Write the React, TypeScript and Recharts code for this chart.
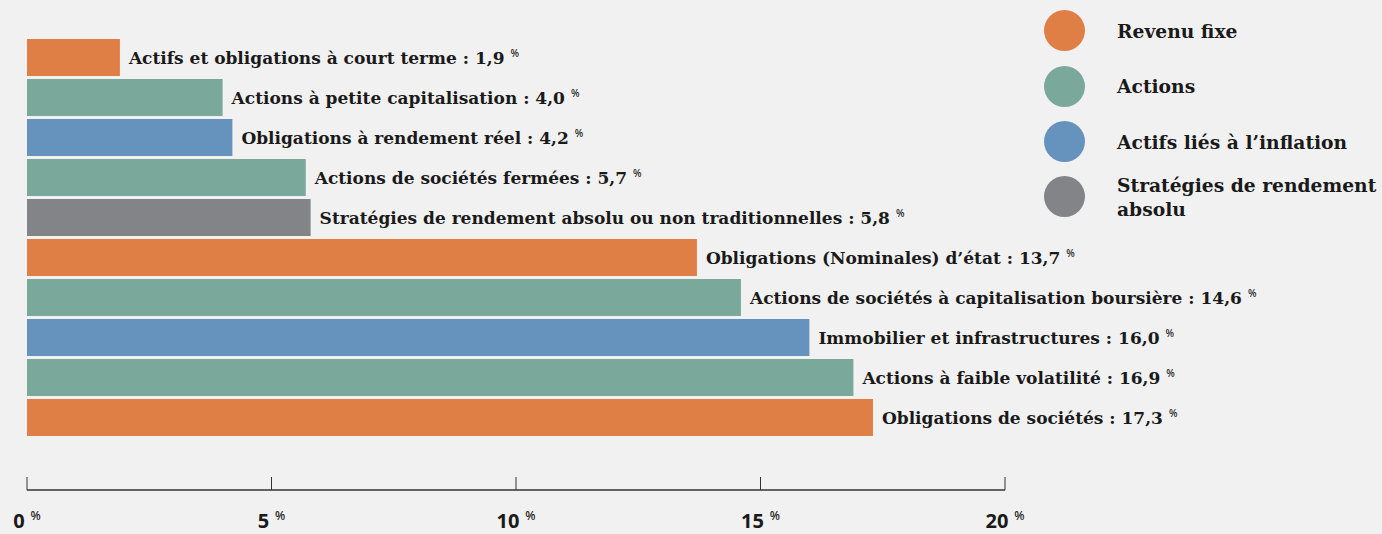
import React from 'react';
import { BarChart, Bar, XAxis, YAxis, Cell, LabelList, Legend } from 'recharts';

const categories = [
  'Actifs et obligations à court terme',
  'Actions à petite capitalisation',
  'Obligations à rendement réel',
  'Actions de sociétés fermées',
  'Stratégies de rendement absolu ou non traditionnelles',
  'Obligations (Nominales) d’état',
  'Actions de sociétés à capitalisation boursière',
  'Immobilier et infrastructures',
  'Actions à faible volatilité',
  'Obligations de sociétés',
];
const values = [1.9, 4.0, 4.2, 5.7, 5.8, 13.7, 14.6, 16.0, 16.9, 17.3];
const groups = [0, 1, 2, 1, 3, 0, 1, 2, 1, 0];

const groupNames = ['Revenu fixe', 'Actions', 'Actifs liés à l’inflation', 'Stratégies de rendement absolu'];
const groupColors = ['#DF7F46', '#7AA89B', '#6593BD', '#838488'];
const xTicks = [0, 5, 10, 15, 20];

const fmt = (v: number) => v.toFixed(1).replace('.', ',');

const data = categories.map((c, i) => ({
  name: c,
  value: values[i],
  group: groups[i],
  label: `${c} : ${fmt(values[i])}`,
}));

const SERIF = '"DejaVu Serif", serif';
const SANS = '"Noto Sans", sans-serif';

const BarLabel = (props: any) => {
  const { x, y, width, height, value } = props;
  const tx = Number(x) + Number(width) + 9;
  const ty = Number(y) + Number(height) / 2 + 6;
  return (
    <text x={tx} y={ty} fontFamily={SERIF} fontWeight={700} fontSize={17} fill="#1a1a1a">
      {value}
      <tspan fontSize={10} dx={6} dy={-7} fontFamily={SANS} fontWeight={500}>%</tspan>
    </text>
  );
};

const XTick = (props: any) => {
  const { x, y, payload } = props;
  return (
    <g>
      <line x1={x} x2={x} y1={y - 13} y2={y} stroke="#333" strokeWidth={1} />
      <text x={x} y={y + 38} textAnchor="middle" fontFamily={SANS} fontWeight={700} fontSize={20} fill="#1a1a1a">
        {payload.value}
        <tspan fontSize={12} dx={6} dy={-8} fontWeight={500}>%</tspan>
      </text>
    </g>
  );
};

const LegendContent = () => (
  <div style={{ paddingTop: 3.3 }}>
    {groupNames.map((n, i) => (
      <div key={n} style={{ display: 'flex', alignItems: 'center', height: 55.33 }}>
        <div style={{ width: 41, height: 41, borderRadius: '50%', background: groupColors[i], marginLeft: 4, flex: '0 0 41px' }} />
        <div style={{ marginLeft: 32, fontFamily: SERIF, fontWeight: 700, fontSize: 18.7, lineHeight: '24px', color: '#1a1a1a', width: 270 }}>
          {n}
        </div>
      </div>
    ))}
  </div>
);

export default function App() {
  return (
    <div style={{ position: 'absolute', left: 0, top: 0, width: 1382, height: 534, background: '#F1F1F1' }}>
      <BarChart
        width={1382}
        height={534}
        data={data}
        layout="vertical"
        margin={{ top: 26, right: 377, bottom: 0, left: 27 }}
      >
        <XAxis
          type="number"
          domain={[0, 20]}
          ticks={xTicks}
          height={44}
          tickSize={0}
          tickMargin={0}
          tickLine={false}
          axisLine={{ stroke: '#333', strokeWidth: 1.5 }}
          tick={<XTick />}
          interval={0}
        />
        <YAxis
          type="category"
          dataKey="name"
          width={0}
          tick={false}
          tickLine={false}
          axisLine={{ stroke: '#333', strokeWidth: 1.5 }}
          padding={{ top: 11, bottom: 53 }}
        />
        <Bar dataKey="value" barSize={37} isAnimationActive={false}>
          {data.map((d, i) => (
            <Cell key={i} fill={groupColors[d.group]} />
          ))}
          <LabelList dataKey="label" content={<BarLabel />} />
        </Bar>
        <Legend
          layout="horizontal"
          verticalAlign="middle"
          align="center"
          content={<LegendContent />}
          wrapperStyle={{ left: 1040, top: 0, width: 342, position: 'absolute' }}
        />
      </BarChart>
    </div>
  );
}
